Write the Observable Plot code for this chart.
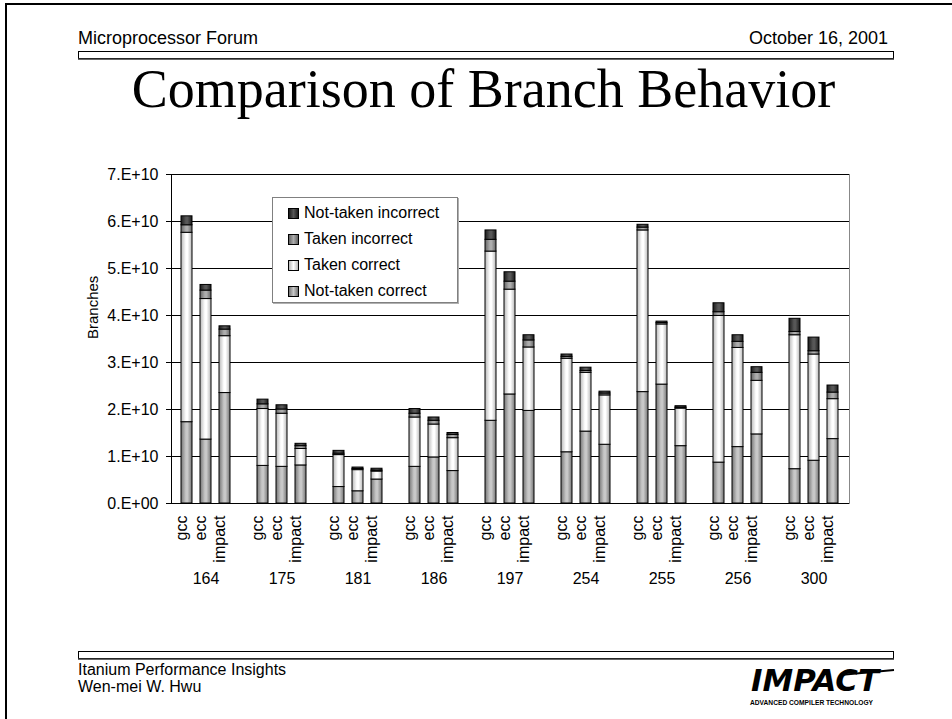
<!DOCTYPE html>
<html>
<head>
<meta charset="utf-8">
<script src="https://cdn.jsdelivr.net/npm/d3@7"></script>
<script src="https://cdn.jsdelivr.net/npm/@observablehq/plot@0.6"></script>
<style>
  html, body { margin: 0; padding: 0; background: #fff; }
  #page { position: relative; width: 952px; height: 719px; overflow: hidden; font-family: "Liberation Sans", Arial, sans-serif; }
  #deco { position: absolute; left: 0; top: 0; }
  #chart { position: absolute; left: 0; top: 160px; }
  #legend { position: absolute; left: 272px; top: 197px; width: 186px; height: 106px; box-sizing: border-box;
            border: 1px solid #808080; background: #fff; box-shadow: 1px 1px 0 #b0b0b0; }
  .lrow { position: absolute; left: 15px; height: 20px; line-height: 20px; font-size: 16px; color: #000; white-space: nowrap; }
  .sw { display: inline-block; width: 9px; height: 9px; border: 1px solid #000; vertical-align: -1px; margin-right: 5px; }
</style>
</head>
<body>
<div id="page">
  <svg id="deco" width="952" height="719" font-family="Liberation Sans, Arial, sans-serif">
    <line x1="5" y1="4" x2="952" y2="4" stroke="#000" stroke-width="2"/>
    <line x1="6" y1="3" x2="6" y2="719" stroke="#000" stroke-width="2"/>
    <text x="78" y="44" font-size="18">Microprocessor Forum</text>
    <text x="888" y="44" font-size="18" text-anchor="end">October 16, 2001</text>
    <rect x="78.5" y="51.5" width="815" height="7" fill="#fff" stroke="#000" stroke-width="1"/>
    <line x1="78" y1="59" x2="894" y2="59" stroke="#333" stroke-width="1.5"/>
    <text x="483.5" y="107" font-size="54" text-anchor="middle" font-family="Liberation Serif, Times New Roman, serif">Comparison of Branch Behavior</text>
    <rect x="78.5" y="651.5" width="815" height="7" fill="#fff" stroke="#000" stroke-width="1"/>
    <line x1="78" y1="659" x2="894" y2="659" stroke="#333" stroke-width="1.5"/>
    <text x="78" y="675" font-size="16">Itanium Performance Insights</text>
    <text x="78" y="692" font-size="16">Wen-mei W. Hwu</text>
    <g>
      <text x="751" y="691" font-size="31" font-weight="bold" font-style="italic" font-family="DejaVu Sans Condensed, DejaVu Sans, sans-serif" textLength="128" lengthAdjust="spacingAndGlyphs">IMPACT</text>
      <line x1="840" y1="675" x2="894" y2="670" stroke="#000" stroke-width="2"/>
      <text x="750" y="705" font-size="6.5" font-weight="bold" textLength="123" lengthAdjust="spacingAndGlyphs">ADVANCED COMPILER TECHNOLOGY</text>
    </g>
  </svg>
  <div id="chart"></div>
  <div id="legend"></div>
</div>
<script>
// ---------------- data (values in branches) ----------------
const benchmarks = ["164", "175", "181", "186", "197", "254", "255", "256", "300"];
const compilers = ["gcc", "ecc", "impact"];
const seriesNames = ["Not-taken correct", "Taken correct", "Taken incorrect", "Not-taken incorrect"];
const yTicks = [0, 1e10, 2e10, 3e10, 4e10, 5e10, 6e10, 7e10];

// order per benchmark: gcc, ecc, impact  (units of 1e10)
const notTakenCorrect = [
  1.73, 1.36, 2.35,
  0.80, 0.78, 0.81,
  0.35, 0.26, 0.51,
  0.78, 0.98, 0.69,
  1.76, 2.32, 1.97,
  1.09, 1.53, 1.25,
  2.37, 2.53, 1.22,
  0.87, 1.20, 1.47,
  0.73, 0.91, 1.37
];
const takenCorrect = [
  4.03, 2.99, 1.21,
  1.21, 1.13, 0.35,
  0.68, 0.45, 0.17,
  1.05, 0.70, 0.70,
  3.60, 2.23, 1.35,
  1.99, 1.25, 1.05,
  3.44, 1.28, 0.80,
  3.12, 2.11, 1.14,
  2.85, 2.26, 0.85
];
const takenIncorrect = [
  0.16, 0.18, 0.14,
  0.10, 0.09, 0.06,
  0.03, 0.025, 0.02,
  0.08, 0.08, 0.07,
  0.25, 0.17, 0.15,
  0.04, 0.04, 0.04,
  0.06, 0.03, 0.02,
  0.08, 0.13, 0.17,
  0.07, 0.07, 0.14
];
const notTakenIncorrect = [
  0.19, 0.12, 0.07,
  0.10, 0.09, 0.05,
  0.06, 0.03, 0.04,
  0.10, 0.07, 0.04,
  0.20, 0.20, 0.11,
  0.05, 0.07, 0.04,
  0.06, 0.03, 0.03,
  0.19, 0.14, 0.12,
  0.28, 0.29, 0.15
];
const seriesValues = [notTakenCorrect, takenCorrect, takenIncorrect, notTakenIncorrect];

// gradient shading per series: [edge, center]
const shades = [["#747474", "#c8c8c8"], ["#b8b8b8", "#ffffff"], ["#646464", "#adadad"], ["#1a1a1a", "#575757"]];
const gradIds = ["gNTC", "gTC", "gTI", "gNTI"];

// ---------------- build table ----------------
const xDomain = [];
benchmarks.forEach((b, i) => {
  compilers.forEach(c => xDomain.push(b + " " + c));
  if (i < benchmarks.length - 1) xDomain.push("gap" + i);
});
const rows = [];
seriesNames.forEach((s, si) => {
  benchmarks.forEach((b, bi) => {
    compilers.forEach((c, ci) => {
      rows.push({key: b + " " + c, benchmark: b, compiler: c, series: s, value: seriesValues[si][bi * 3 + ci] * 1e10});
    });
  });
});
const labelRows = [];
benchmarks.forEach(b => compilers.forEach(c => labelRows.push({key: b + " " + c, compiler: c})));

const fmt = d => d === 0 ? "0.E+00" : Math.round(d / 1e10) + ".E+10";

const plot = Plot.plot({
  width: 952,
  height: 450,
  marginLeft: 171,
  marginRight: 103,
  marginTop: 14,
  marginBottom: 107,
  style: {fontFamily: "Liberation Sans, Arial, sans-serif", fontSize: "16px", background: "transparent", overflow: "visible"},
  x: {type: "band", domain: xDomain, paddingInner: 0.4, paddingOuter: 0.2, axis: null},
  y: {domain: [0, 7e10], axis: null},
  color: {domain: seriesNames, range: gradIds.map(id => `url(#${id})`)},
  marks: [
    Plot.frame({stroke: "#888"}),
    Plot.ruleY(yTicks, {stroke: "#000", strokeWidth: 1}),
    Plot.barY(rows, {x: "key", y: "value", fill: "series", stroke: "#000", strokeWidth: 1, insetTop: 0, insetBottom: 0}),
    Plot.axisY(yTicks, {tickFormat: fmt, tickSize: 5, tickPadding: 8, fontSize: 16, label: null, stroke: "#000"}),
    Plot.frame({anchor: "left", stroke: "#000"}),
    Plot.text(["Branches"], {frameAnchor: "left", dx: -78, rotate: -90, fontSize: 15, fill: "#000"}),
    Plot.text(labelRows, {x: "key", text: "compiler", frameAnchor: "bottom", dy: 12, rotate: -90, textAnchor: "end", fontSize: 16, fill: "#000"}),
    Plot.text(benchmarks, {x: b => b + " ecc", text: b => b, frameAnchor: "bottom", dy: 80, fontSize: 16, fill: "#000"})
  ]
});

// gradient definitions for the cylinder-like shading
const defs = d3.select(plot).insert("defs", ":first-child");
gradIds.forEach((id, i) => {
  const g = defs.append("linearGradient").attr("id", id).attr("x1", "0").attr("x2", "1").attr("y1", "0").attr("y2", "0");
  g.append("stop").attr("offset", "0%").attr("stop-color", shades[i][0]);
  g.append("stop").attr("offset", "45%").attr("stop-color", shades[i][1]);
  g.append("stop").attr("offset", "60%").attr("stop-color", shades[i][1]);
  g.append("stop").attr("offset", "100%").attr("stop-color", shades[i][0]);
});
document.getElementById("chart").appendChild(plot);

// legend (top-to-bottom reversed order, like the original)
const legend = document.getElementById("legend");
const tops = [5, 31, 57, 83];
seriesNames.slice().reverse().forEach((s, i) => {
  const si = seriesNames.indexOf(s);
  const row = document.createElement("div");
  row.className = "lrow";
  row.style.top = tops[i] + "px";
  const sw = document.createElement("span");
  sw.className = "sw";
  sw.style.background = `linear-gradient(to right, ${shades[si][0]}, ${shades[si][1]} 50%, ${shades[si][0]})`;
  row.appendChild(sw);
  row.appendChild(document.createTextNode(s));
  legend.appendChild(row);
});
</script>
</body>
</html>
